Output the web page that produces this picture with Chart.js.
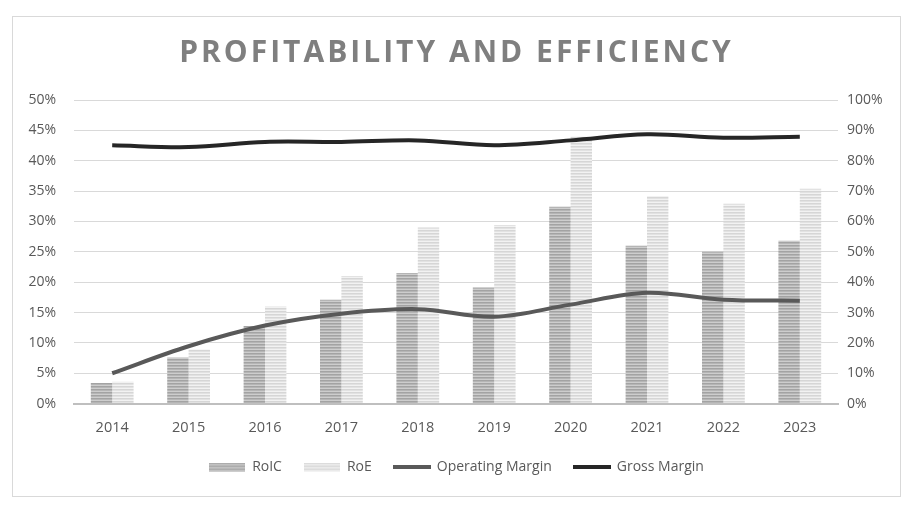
<!DOCTYPE html>
<html>
<head>
<meta charset="utf-8">
<script src="https://cdn.jsdelivr.net/npm/chart.js@4.4.1/dist/chart.umd.min.js"></script>
<style>
  html, body { margin: 0; padding: 0; background: #fff; }
  #box { position: absolute; left: 12px; top: 16px; width: 887px; height: 479px; border: 1px solid #d9d9d9; }
  #box canvas { display: block; }
</style>
</head>
<body>
<div id="box"><canvas id="combo-profitability" width="887" height="479"></canvas></div>
<script>
var years = ['2014', '2015', '2016', '2017', '2018', '2019', '2020', '2021', '2022', '2023'];
var roic = [3.4, 7.6, 12.8, 17.1, 21.5, 19.1, 32.4, 26.0, 25.0, 26.8];
var roe = [3.6, 8.9, 16.0, 21.0, 29.0, 29.4, 44.0, 34.2, 32.9, 35.4];
var operatingMargin = [10.0, 18.9, 25.7, 29.6, 31.1, 28.6, 32.6, 36.5, 34.2, 33.9];
var grossMargin = [85.1, 84.5, 86.2, 86.2, 86.7, 85.1, 86.7, 88.7, 87.6, 87.9];
var seriesNames = ['RoIC', 'RoE', 'Operating Margin', 'Gross Margin'];

// striped fill like the excel pattern bars
function stripes(dark, mid, light) {
    var c = document.createElement('canvas');
    c.width = 4; c.height = 3;
    var g = c.getContext('2d');
    g.fillStyle = dark; g.fillRect(0, 0, 4, 1);
    g.fillStyle = mid; g.fillRect(0, 1, 4, 1);
    g.fillStyle = light; g.fillRect(0, 2, 4, 1);
    return c;
}

function legendSwatch(w, h, fill) {
    var c = document.createElement('canvas');
    c.width = w; c.height = h;
    var g = c.getContext('2d');
    g.fillStyle = fill;
    g.fillRect(0, 0, w, h);
    return c;
}

const ctx = document.getElementById('combo-profitability');
const g2 = ctx.getContext('2d');
var roicFill = g2.createPattern(stripes('#a3a3a3', '#b5b5b5', '#cdcdcd'), 'repeat');
var roeFill = g2.createPattern(stripes('#d6d6d6', '#e2e2e2', '#f2f2f2'), 'repeat');

var swatches = [
    legendSwatch(36, 9, roicFill),
    legendSwatch(36, 9, roeFill),
    legendSwatch(38, 4, '#595959'),
    legendSwatch(38, 4, '#262626')
];

const spacedTitle = {
    id: 'spacedTitle',
    afterLayout(chart) {
        var t = chart.titleBlock;
        if (t && !t._spaced) {
            var orig = t.draw.bind(t);
            t.draw = function (area) {
                chart.ctx.save();
                chart.ctx.letterSpacing = '3px';
                orig(area);
                chart.ctx.restore();
            };
            t._spaced = true;
        }
    }
};

new Chart(ctx, {
    type: 'bar',
    data: {
        labels: years,
        datasets: [{
            label: seriesNames[0],
            data: roic,
            backgroundColor: roicFill,
            yAxisID: 'y',
            order: 2,
            barPercentage: 1.0,
            categoryPercentage: 0.56
        }, {
            label: seriesNames[1],
            data: roe,
            backgroundColor: roeFill,
            yAxisID: 'y',
            order: 2,
            barPercentage: 1.0,
            categoryPercentage: 0.56
        }, {
            type: 'line',
            label: seriesNames[2],
            data: operatingMargin,
            borderColor: '#595959',
            borderWidth: 4,
            pointRadius: 0,
            tension: 0.35,
            yAxisID: 'y1',
            order: 1
        }, {
            type: 'line',
            label: seriesNames[3],
            data: grossMargin,
            borderColor: '#262626',
            borderWidth: 4,
            pointRadius: 0,
            tension: 0.35,
            yAxisID: 'y1',
            order: 0
        }]
    },
    plugins: [spacedTitle],
    options: {
        responsive: false,
        animation: false,
        layout: { padding: { left: 0, right: 0, top: 0, bottom: 12 } },
        scales: {
            x: {
                grid: { display: false },
                border: { color: '#bfbfbf', width: 2 },
                ticks: { color: '#595959', font: { family: 'Open Sans', size: 14.5 }, padding: 8 },
                afterFit: function (s) { s.height = s.height - 7; }
            },
            y: {
                position: 'left',
                min: 0,
                max: 50,
                ticks: {
                    stepSize: 5,
                    color: '#595959',
                    font: { family: 'Open Sans', size: 14 },
                    padding: 18,
                    callback: function (v) { return v + '%'; }
                },
                grid: { color: '#d9d9d9', drawTicks: false },
                border: { display: false },
                afterFit: function (s) { s.width = 61; }
            },
            y1: {
                position: 'right',
                min: 0,
                max: 100,
                ticks: {
                    stepSize: 10,
                    color: '#595959',
                    font: { family: 'Open Sans', size: 14 },
                    padding: 9,
                    callback: function (v) { return v + '%'; }
                },
                grid: { display: false, drawTicks: false },
                border: { display: false },
                afterFit: function (s) { s.width = 62; }
            }
        },
        plugins: {
            title: {
                display: true,
                text: 'PROFITABILITY AND EFFICIENCY',
                color: '#7f7f7f',
                font: { family: 'Open Sans', size: 30, weight: 'bold' },
                padding: { top: 18, bottom: 29 }
            },
            legend: {
                position: 'bottom',
                labels: {
                    usePointStyle: true,
                    pointStyleWidth: 36,
                    boxHeight: 9,
                    padding: 22,
                    color: '#595959',
                    font: { family: 'Open Sans', size: 14 },
                    generateLabels: function (chart) {
                        return seriesNames.map(function (name, i) {
                            return {
                                text: name,
                                pointStyle: swatches[i],
                                datasetIndex: i,
                                fontColor: '#595959',
                                hidden: false,
                                lineWidth: 0,
                                strokeStyle: 'rgba(0,0,0,0)',
                                fillStyle: 'rgba(0,0,0,0)'
                            };
                        });
                    }
                }
            },
            tooltip: { enabled: false }
        }
    }
});
</script>
</body>
</html>
